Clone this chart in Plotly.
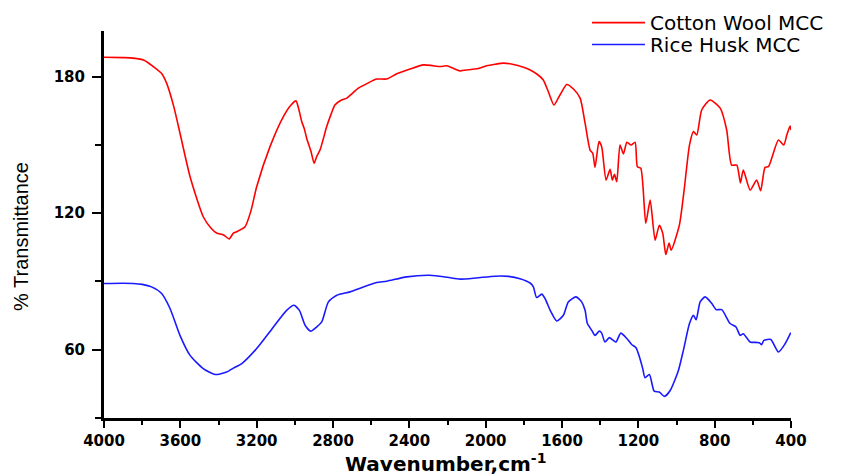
import plotly.graph_objects as go

cotton_wn = [4000, 3900, 3848, 3790, 3742, 3700, 3672, 3635, 3602, 3549, 3480, 3440, 3410, 3375, 3344, 3322, 3305, 3261, 3230, 3200,
             3130, 3060, 3020, 2994, 2976, 2964, 2950, 2938, 2915, 2899, 2885, 2868, 2833, 2810, 2790, 2760, 2728, 2700, 2667, 2620,
             2571, 2519, 2466, 2400, 2326, 2280, 2239, 2204, 2170, 2134, 2090, 2047, 1995, 1950, 1907, 1860, 1802, 1767, 1730, 1698,
             1670, 1642, 1610, 1575, 1540, 1505, 1479, 1453, 1439, 1427, 1406, 1392, 1369, 1348, 1336, 1325, 1313, 1296, 1278, 1260,
             1238, 1217, 1205, 1187, 1161, 1138, 1112, 1090, 1072, 1056, 1039, 1028, 985, 960, 932, 911, 894, 868, 824, 771,
             737, 711, 684, 665, 650, 614, 580, 559, 536, 518, 466, 438, 422, 405, 400]
cotton_t = [188.5, 188.3, 188.1, 187.2, 184.4, 181.5, 177.1, 167.0, 155.2, 136.0, 118.4, 113.5, 111.3, 110.5, 108.7, 111.2, 111.8, 114.0, 121.0, 131.6,
            149.2, 162.4, 167.5, 169.3, 164.5, 160.2, 157.0, 152.9, 147.0, 141.9, 145.0, 147.7, 158.0, 163.5, 167.5, 169.5, 170.5, 172.5, 174.9, 177.0,
            178.9, 178.9, 181.2, 183.2, 185.1, 184.8, 184.4, 184.7, 183.6, 182.5, 183.0, 183.4, 184.7, 185.4, 185.9, 185.4, 184.1, 182.9, 181.0, 178.5,
            173.0, 167.5, 172.0, 176.5, 174.5, 170.5, 159.5, 147.7, 146.3, 140.1, 151.4, 149.2, 134.5, 139.2, 134.5, 137.0, 133.8, 149.9, 146.0, 151.1,
            149.9, 151.1, 140.4, 139.7, 115.5, 125.7, 108.1, 114.7, 111.1, 101.8, 106.9, 103.7, 114.7, 130.1, 149.9, 155.8, 154.3, 165.3, 169.7, 166.1,
            156.5, 141.1, 141.1, 133.3, 138.9, 130.1, 134.5, 129.8, 140.1, 140.4, 152.1, 149.9, 154.3, 158.3, 156.5]

rice_wn = [4000, 3900, 3847, 3800, 3751, 3698, 3654, 3602, 3549, 3480, 3418, 3357, 3320, 3278, 3200, 3112, 3043, 3004, 2976, 2946,
           2917, 2885, 2859, 2824, 2780, 2711, 2641, 2571, 2519, 2414, 2292, 2200, 2134, 2050, 1950, 1880, 1820, 1767, 1750, 1733,
           1706, 1689, 1660, 1628, 1593, 1567, 1527, 1497, 1479, 1467, 1444, 1427, 1404, 1392, 1375, 1352, 1331, 1317, 1292, 1260,
           1235, 1212, 1194, 1177, 1165, 1142, 1117, 1090, 1063, 1033, 990, 964, 932, 911, 897, 876, 850, 815, 792, 763,
           719, 688, 667, 650, 614, 566, 554, 542, 506, 466, 431, 401]
rice_t = [89.1, 89.2, 89.1, 88.7, 87.6, 84.7, 78.1, 66.3, 57.5, 51.7, 49.1, 50.2, 52.0, 53.9, 60.5, 70.0, 77.3, 79.5, 77.3, 70.7,
          68.1, 70.0, 72.2, 81.0, 83.9, 85.4, 87.6, 89.5, 90.1, 92.0, 92.7, 91.8, 91.0, 91.5, 92.3, 92.2, 91.2, 89.3, 87.6, 82.9,
          84.4, 82.5, 77.0, 72.6, 75.1, 81.0, 83.2, 81.0, 77.3, 71.5, 68.5, 66.3, 68.2, 67.3, 63.4, 65.3, 64.1, 63.4, 67.3, 64.9,
          62.3, 60.9, 56.8, 51.7, 47.7, 49.1, 41.8, 41.4, 39.5, 42.1, 50.9, 59.7, 71.5, 75.1, 73.2, 81.0, 83.2, 80.3, 77.6, 77.6,
          71.5, 70.0, 66.3, 67.0, 63.4, 63.1, 62.2, 64.1, 64.5, 59.0, 62.6, 67.5]

series_names = ["Cotton Wool MCC", "Rice Husk MCC"]
x_ticks = [4000, 3600, 3200, 2800, 2400, 2000, 1600, 1200, 800, 400]
y_ticks = [60, 120, 180]

fig = go.Figure()
fig.add_trace(go.Scatter(x=cotton_wn, y=cotton_t, mode="lines", name=series_names[0], legend="legend",
                         line=dict(color="#ff0000", width=1.6, shape="spline", smoothing=0.6)))
fig.add_trace(go.Scatter(x=rice_wn, y=rice_t, mode="lines", name=series_names[1], legend="legend2",
                         line=dict(color="#1a1aff", width=1.6, shape="spline", smoothing=0.6)))

tick_font = dict(family="DejaVu Sans", size=15, color="black", weight="bold")
legend_style = dict(xanchor="left", yanchor="top", bgcolor="rgba(0,0,0,0)",
                    font=dict(family="DejaVu Sans", size=20, color="black"), itemwidth=53)

fig.update_layout(
    width=838, height=468,
    margin=dict(l=96, r=55, t=23, b=58, autoexpand=False),
    paper_bgcolor="white", plot_bgcolor="white",
    showlegend=True,
    legend=dict(x=0.703, y=1.072, **legend_style),
    legend2=dict(x=0.703, y=1.0155, **legend_style),
    xaxis=dict(range=[4000, 400], tickvals=x_ticks, ticktext=[str(v) for v in x_ticks],
               showline=True, linewidth=3, linecolor="black", ticks="outside", ticklen=7, tickwidth=2,
               tickcolor="black", showgrid=False, zeroline=False, tickfont=tick_font,
               minor=dict(dtick=200, tick0=400, ticks="outside", ticklen=4, tickwidth=2, tickcolor="black", showgrid=False)),
    yaxis=dict(range=[30, 200], tickvals=y_ticks, ticktext=[str(v) for v in y_ticks],
               showline=True, linewidth=3, linecolor="black", ticks="outside", ticklen=9, tickwidth=2,
               tickcolor="black", showgrid=False, zeroline=False, tickfont=tick_font, ticklabelstandoff=4,
               minor=dict(dtick=30, tick0=0, ticks="outside", ticklen=6, tickwidth=2, tickcolor="black", showgrid=False)),
    annotations=[
        dict(text="Wavenumber,cm<sup>-1</sup>", xref="paper", yref="paper", x=0.497, y=-0.078,
             xanchor="center", yanchor="top", showarrow=False,
             font=dict(family="DejaVu Sans", size=20, color="black", weight="bold")),
        dict(text="% Transmittance", xref="paper", yref="paper", x=-0.121, y=0.47,
             xanchor="center", yanchor="middle", showarrow=False, textangle=-90,
             font=dict(family="Liberation Sans, Arial", size=20, color="black")),
    ],
)

fig.write_html("out.html")
